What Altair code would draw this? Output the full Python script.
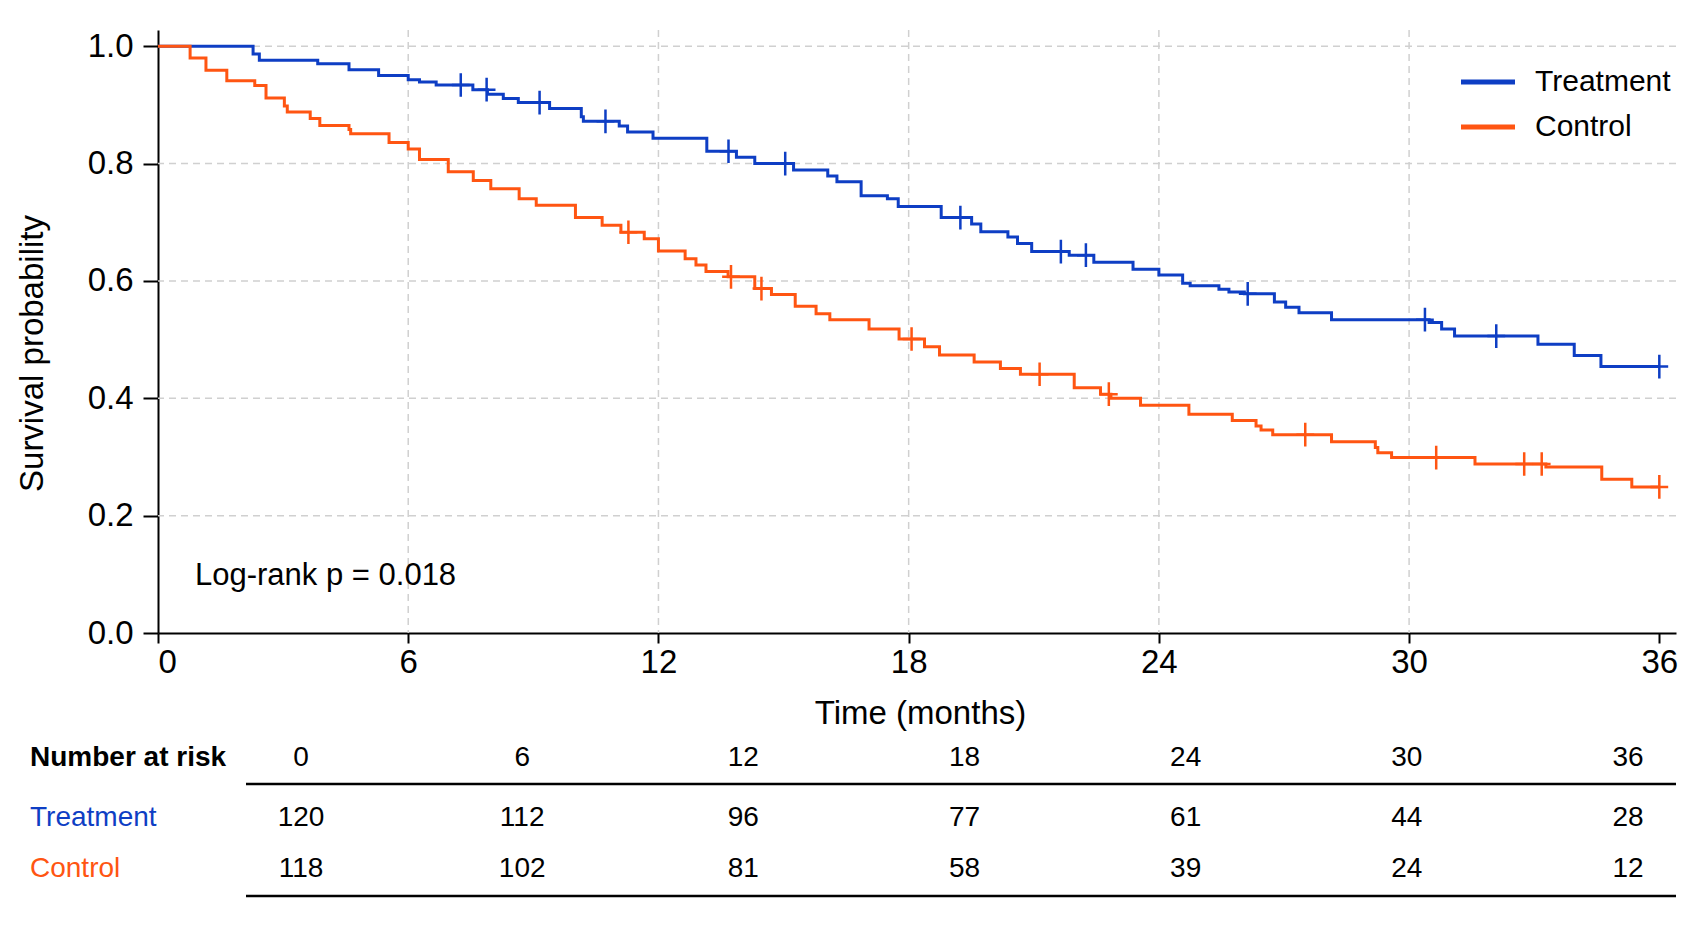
import altair as alt
import pandas as pd

FONT = "Liberation Sans Narrow, Arial Narrow, Liberation Sans, sans-serif"

groups = ["Treatment", "Control"]
colors = ["#0E3EC4", "#FF5512"]

# Kaplan-Meier step points: event times (months) and survival after each drop
trt_time = [2.28, 2.43, 3.83, 4.58, 5.29, 6.0, 6.27, 6.67, 7.55, 7.9, 8.28, 8.64,
            9.39, 10.15, 10.2, 11.06, 11.26, 11.87, 13.16, 13.87, 14.31, 15.24,
            16.06, 16.28, 16.86, 17.49, 17.75, 18.78, 19.51, 19.73, 20.38, 20.61,
            20.95, 21.85, 22.44, 23.38, 24.0, 24.57, 24.75, 25.44, 25.68, 26.05,
            26.77, 27.04, 27.36, 28.14, 30.48, 30.78, 31.09, 33.09, 33.96, 34.6]
trt_surv = [0.987, 0.976, 0.970, 0.960, 0.950, 0.943, 0.939, 0.934, 0.926, 0.918,
            0.911, 0.904, 0.894, 0.880, 0.872, 0.864, 0.854, 0.843, 0.821, 0.811,
            0.800, 0.789, 0.779, 0.769, 0.745, 0.740, 0.727, 0.708, 0.697, 0.684,
            0.675, 0.664, 0.650, 0.644, 0.632, 0.620, 0.610, 0.596, 0.592, 0.586,
            0.581, 0.578, 0.564, 0.555, 0.546, 0.534, 0.529, 0.518, 0.506, 0.492,
            0.473, 0.454]
trt_censor = [7.26, 7.88, 9.15, 10.73, 13.68, 15.04, 19.24, 21.65, 22.25, 26.13,
              30.38, 32.09, 36.0]

ctl_time = [0.77, 1.15, 1.65, 2.32, 2.59, 3.03, 3.1, 3.65, 3.88, 4.58, 4.62, 5.54,
            6.0, 6.27, 6.96, 7.56, 7.98, 8.66, 9.07, 10.01, 10.65, 11.1, 11.66,
            12.0, 12.64, 12.9, 13.14, 13.67, 14.31, 14.71, 15.28, 15.78, 16.11,
            17.05, 17.77, 18.38, 18.74, 19.57, 20.2, 20.68, 21.97, 22.6, 22.85,
            23.56, 24.72, 25.76, 26.33, 26.45, 26.73, 28.14, 29.19, 29.25, 29.58,
            31.58, 33.28, 34.62, 35.34]
ctl_surv = [0.980, 0.959, 0.941, 0.933, 0.912, 0.898, 0.888, 0.877, 0.865, 0.858,
            0.851, 0.836, 0.825, 0.807, 0.786, 0.771, 0.757, 0.740, 0.729, 0.708,
            0.695, 0.683, 0.672, 0.651, 0.638, 0.627, 0.616, 0.607, 0.587, 0.577,
            0.557, 0.544, 0.534, 0.518, 0.501, 0.488, 0.474, 0.462, 0.451, 0.441,
            0.418, 0.407, 0.400, 0.388, 0.373, 0.362, 0.353, 0.346, 0.338, 0.326,
            0.316, 0.307, 0.299, 0.288, 0.283, 0.262, 0.249]
ctl_censor = [11.28, 13.74, 14.47, 18.07, 21.14, 22.8, 27.51, 30.65, 32.76, 33.18,
              36.0]

risk_times = [0, 6, 12, 18, 24, 30, 36]
risk_trt = [120, 112, 96, 77, 61, 44, 28]
risk_ctl = [118, 102, 81, 58, 39, 24, 12]

x_ticks = [0, 6, 12, 18, 24, 30, 36]
y_ticks = [0.0, 0.2, 0.4, 0.6, 0.8, 1.0]
grid_x = [6, 12, 18, 24, 30]
grid_y = [0.2, 0.4, 0.6, 0.8, 1.0]
END = 36.0


def step_rows(name, times, surv):
    rows = [{"group": name, "t": 0.0, "s": 1.0}]
    rows += [{"group": name, "t": t, "s": s} for t, s in zip(times, surv)]
    rows.append({"group": name, "t": END, "s": surv[-1]})
    return rows


def surv_at(times, surv, c):
    value = 1.0
    for t, s in zip(times, surv):
        if t <= c:
            value = s
    return value


curves = pd.DataFrame(step_rows("Treatment", trt_time, trt_surv)
                      + step_rows("Control", ctl_time, ctl_surv))
censors = pd.DataFrame(
    [{"group": "Treatment", "t": c, "s": surv_at(trt_time, trt_surv, c)} for c in trt_censor]
    + [{"group": "Control", "t": c, "s": surv_at(ctl_time, ctl_surv, c)} for c in ctl_censor]
)
risk = pd.DataFrame({"t": risk_times, "trt": risk_trt, "ctl": risk_ctl})

W, H = 1518, 603
xs = alt.Scale(domain=[0, 36.4], nice=False, zero=False)
ys = alt.Scale(domain=[0, 1.0277], nice=False)
color = alt.Color("group:N", scale=alt.Scale(domain=groups, range=colors), legend=None)

grid_style = dict(color="#d0d0d0", strokeDash=[7, 5], strokeWidth=1.5)
vgrid = alt.Chart(pd.DataFrame({"t": grid_x})).mark_rule(**grid_style).encode(
    x=alt.X("t:Q", scale=xs, axis=None))
hgrid = alt.Chart(pd.DataFrame({"s": grid_y})).mark_rule(**grid_style).encode(
    y=alt.Y("s:Q", scale=ys, axis=None))

lines = alt.Chart(curves).mark_line(interpolate="step-after", strokeWidth=3).encode(
    x=alt.X("t:Q", scale=xs, axis=alt.Axis(
        values=x_ticks, title="Time (months)", grid=False, tickSize=10, tickWidth=2,
        domainWidth=2, domainColor="black", tickColor="black", labelFontSize=33,
        labelColor="black", labelPadding=3, titleFontSize=33, titleFontWeight="normal",
        titleColor="black", titleX=762, titleY=80, titleBaseline="middle",
        titleAlign="center", labelFont=FONT, titleFont=FONT)),
    y=alt.Y("s:Q", scale=ys, axis=alt.Axis(
        values=y_ticks, format=".1f", title="Survival probability", grid=False,
        tickSize=15, tickWidth=2, domainWidth=2, domainColor="black", tickColor="black",
        labelFontSize=33, labelColor="black", labelPadding=10, titleFontSize=33,
        titleFontWeight="normal", titleColor="black", titleX=-126, titleY=323,
        titleAngle=270, titleBaseline="middle", titleAlign="center",
        labelFont=FONT, titleFont=FONT)),
    color=color,
    detail="group:N",
)

marks = alt.Chart(censors).mark_point(
    shape="M0,-1L0,1M-0.75,0L0.75,0", filled=False, size=560, strokeWidth=2.5, opacity=1
).encode(
    x=alt.X("t:Q", scale=xs, axis=None),
    y=alt.Y("s:Q", scale=ys, axis=None),
    color=color,
)

pval = alt.Chart(pd.DataFrame({"label": ["Log-rank p = 0.018"]})).mark_text(
    align="left", baseline="middle", fontSize=31, font=FONT, color="black"
).encode(x=alt.value(37), y=alt.value(546), text="label:N")

legend_layers = []
for i, g in enumerate(groups):
    ly = 52 + 45 * i
    legend_layers.append(
        alt.Chart(pd.DataFrame({"group": [g]})).mark_rule(strokeWidth=5, color=colors[i]).encode(
            x=alt.value(1303), x2=alt.value(1357), y=alt.value(ly)))
    legend_layers.append(
        alt.Chart(pd.DataFrame({"group": [g]})).mark_text(
            align="left", baseline="middle", fontSize=30, font=FONT, color="black"
        ).encode(x=alt.value(1377), y=alt.value(ly), text="group:N"))

# Number-at-risk table below the plot, on its own column scale
tx = alt.Scale(domain=[0, 36], range=[143, 1470])
row_y = {"hdr": 728, "Treatment": 788, "Control": 839}
tbl_text = dict(align="center", baseline="middle", fontSize=28, font=FONT, color="black")
hdr_nums = alt.Chart(risk).mark_text(**tbl_text).encode(
    x=alt.X("t:Q", scale=tx, axis=None), y=alt.value(row_y["hdr"]), text="t:Q")
trt_nums = alt.Chart(risk).mark_text(**tbl_text).encode(
    x=alt.X("t:Q", scale=tx, axis=None), y=alt.value(row_y["Treatment"]), text="trt:Q")
ctl_nums = alt.Chart(risk).mark_text(**tbl_text).encode(
    x=alt.X("t:Q", scale=tx, axis=None), y=alt.value(row_y["Control"]), text="ctl:Q")

row_label = dict(align="left", baseline="middle", fontSize=28, font=FONT)
hdr_label = alt.Chart(pd.DataFrame({"label": ["Number at risk"]})).mark_text(
    fontWeight="bold", color="black", **row_label
).encode(x=alt.value(-128), y=alt.value(row_y["hdr"]), text="label:N")
trt_label = alt.Chart(pd.DataFrame({"label": ["Treatment"]})).mark_text(
    color=colors[0], **row_label
).encode(x=alt.value(-128), y=alt.value(row_y["Treatment"]), text="label:N")
ctl_label = alt.Chart(pd.DataFrame({"label": ["Control"]})).mark_text(
    color=colors[1], **row_label
).encode(x=alt.value(-128), y=alt.value(row_y["Control"]), text="label:N")

rule_df = pd.DataFrame({"k": [0]})
top_rule = alt.Chart(rule_df).mark_rule(color="black", strokeWidth=2.5).encode(
    x=alt.value(88), x2=alt.value(1518), y=alt.value(754))
bottom_rule = alt.Chart(rule_df).mark_rule(color="black", strokeWidth=2.5).encode(
    x=alt.value(88), x2=alt.value(1518), y=alt.value(866))

chart = alt.layer(
    vgrid, hgrid, lines, marks, pval, *legend_layers,
    hdr_nums, trt_nums, ctl_nums, hdr_label, trt_label, ctl_label, top_rule, bottom_rule
).resolve_scale(
    x="independent", y="independent"
).properties(
    width=W, height=H,
    autosize=alt.AutoSizeParams(type="none"),
    padding={"left": 158, "top": 30, "right": 17, "bottom": 296},
    background="white",
).configure_view(stroke=None)

chart.save("out.html", embed_options={"renderer": "svg", "actions": False})
